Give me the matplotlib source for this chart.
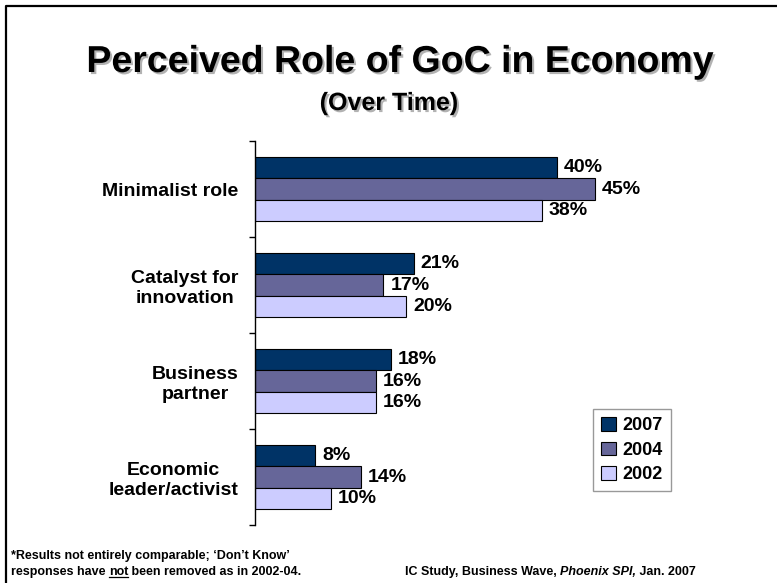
import matplotlib
matplotlib.use("Agg")
import matplotlib.pyplot as plt
import matplotlib.patheffects as pe
from matplotlib.lines import Line2D
import numpy as np

plt.rcParams['font.family'] = ['Liberation Sans', 'DejaVu Sans']
plt.rcParams['font.weight'] = 'bold'

categories = ["Minimalist role", "Catalyst for\ninnovation", "Business\npartner", "Economic\nleader/activist"]
years = ["2007", "2004", "2002"]
v2007 = [40, 21, 18, 8]
v2004 = [45, 17, 16, 14]
v2002 = [38, 20, 16, 10]
colors = ["#003366", "#666699", "#CCCCFF"]

W, H = 777, 583
fig = plt.figure(figsize=(W / 100, H / 100), dpi=100)
ax = fig.add_axes([255 / W, 1 - 525 / H, 453 / W, 384 / H])

y = np.arange(len(categories))
h = 0.222
for k, (vals, col, yr) in enumerate(zip([v2007, v2004, v2002], colors, years)):
    pos = y + (k - 1) * h
    ax.barh(pos, vals, height=h, color=col, edgecolor="black", linewidth=0.8, label=yr)
    for p, v in zip(pos, vals):
        ax.annotate(f"{v}%", (v, p), xytext=(5, 0), textcoords="offset points",
                    ha="left", va="center", fontsize=14, fontweight="bold")

ax.set_xlim(0, 60)
ax.set_ylim(3.5, -0.5)
for s in ["top", "right", "bottom"]:
    ax.spines[s].set_visible(False)
ax.spines["left"].set_linewidth(1.0)
ax.set_xticks([])
ax.set_yticks(y)
ax.set_yticklabels(categories, fontsize=14, fontweight="bold", ha="right", multialignment="center")
ax.set_yticks(np.arange(-0.5, 4.0, 1.0), minor=True)
ax.tick_params(axis="y", which="major", length=0, pad=12)
ax.tick_params(axis="y", which="minor", length=4, width=1, direction="out")

leg = fig.legend(loc="upper left", bbox_to_anchor=(593 / W, 1 - 409 / H), bbox_transform=fig.transFigure,
                 borderaxespad=0, frameon=True, fancybox=False, edgecolor="#808080",
                 prop={"size": 13, "weight": "bold"}, handlelength=0.8, handleheight=0.8,
                 handletextpad=0.4, labelspacing=0.4, borderpad=0.45)
leg.get_frame().set_linewidth(1.0)

# title with soft drop shadow
shadow = [pe.SimplePatchShadow(offset=(1.5, -1.5), shadow_rgbFace="#808080", alpha=0.6), pe.Normal()]
fig.text(400 / W, 1 - 62 / H, "Perceived Role of GoC in Economy", ha="center", va="center",
         fontsize=27, fontweight="bold", path_effects=shadow)
fig.text(389 / W, 1 - 103 / H, "(Over Time)", ha="center", va="center",
         fontsize=18, fontweight="bold", path_effects=shadow)

# frame on the left and top edges
fig.add_artist(Line2D([6 / W, 6 / W, 1], [0, 1 - 6 / H, 1 - 6 / H], transform=fig.transFigure,
                      color="black", linewidth=1.6))

# footnotes, drawn piece by piece for the underline and the italics
fig.canvas.draw()
renderer = fig.canvas.get_renderer()


def pieces(x0, ybase, parts, size=9):
    x = x0
    for txt, style, under in parts:
        t = fig.text(x / W, 1 - ybase / H, txt, ha="left", va="baseline", fontsize=size,
                     fontweight="bold", fontstyle=style)
        bb = t.get_window_extent(renderer)
        if under:
            fig.add_artist(Line2D([bb.x0 / W, bb.x1 / W], [(H - ybase - 2) / H] * 2,
                                  transform=fig.transFigure, color="black", linewidth=0.9))
        x += bb.width


pieces(11, 559, [("*Results not entirely comparable; \u2018Don\u2019t Know\u2019", "normal", False)])
pieces(11, 575, [("responses have ", "normal", False), ("not", "normal", True),
                 (" been removed as in 2002-04.", "normal", False)])
pieces(405, 575, [("IC Study, Business Wave, ", "normal", False), ("Phoenix SPI,", "italic", False),
                  (" Jan. 2007", "normal", False)])

fig.savefig("out.png", dpi=100)
